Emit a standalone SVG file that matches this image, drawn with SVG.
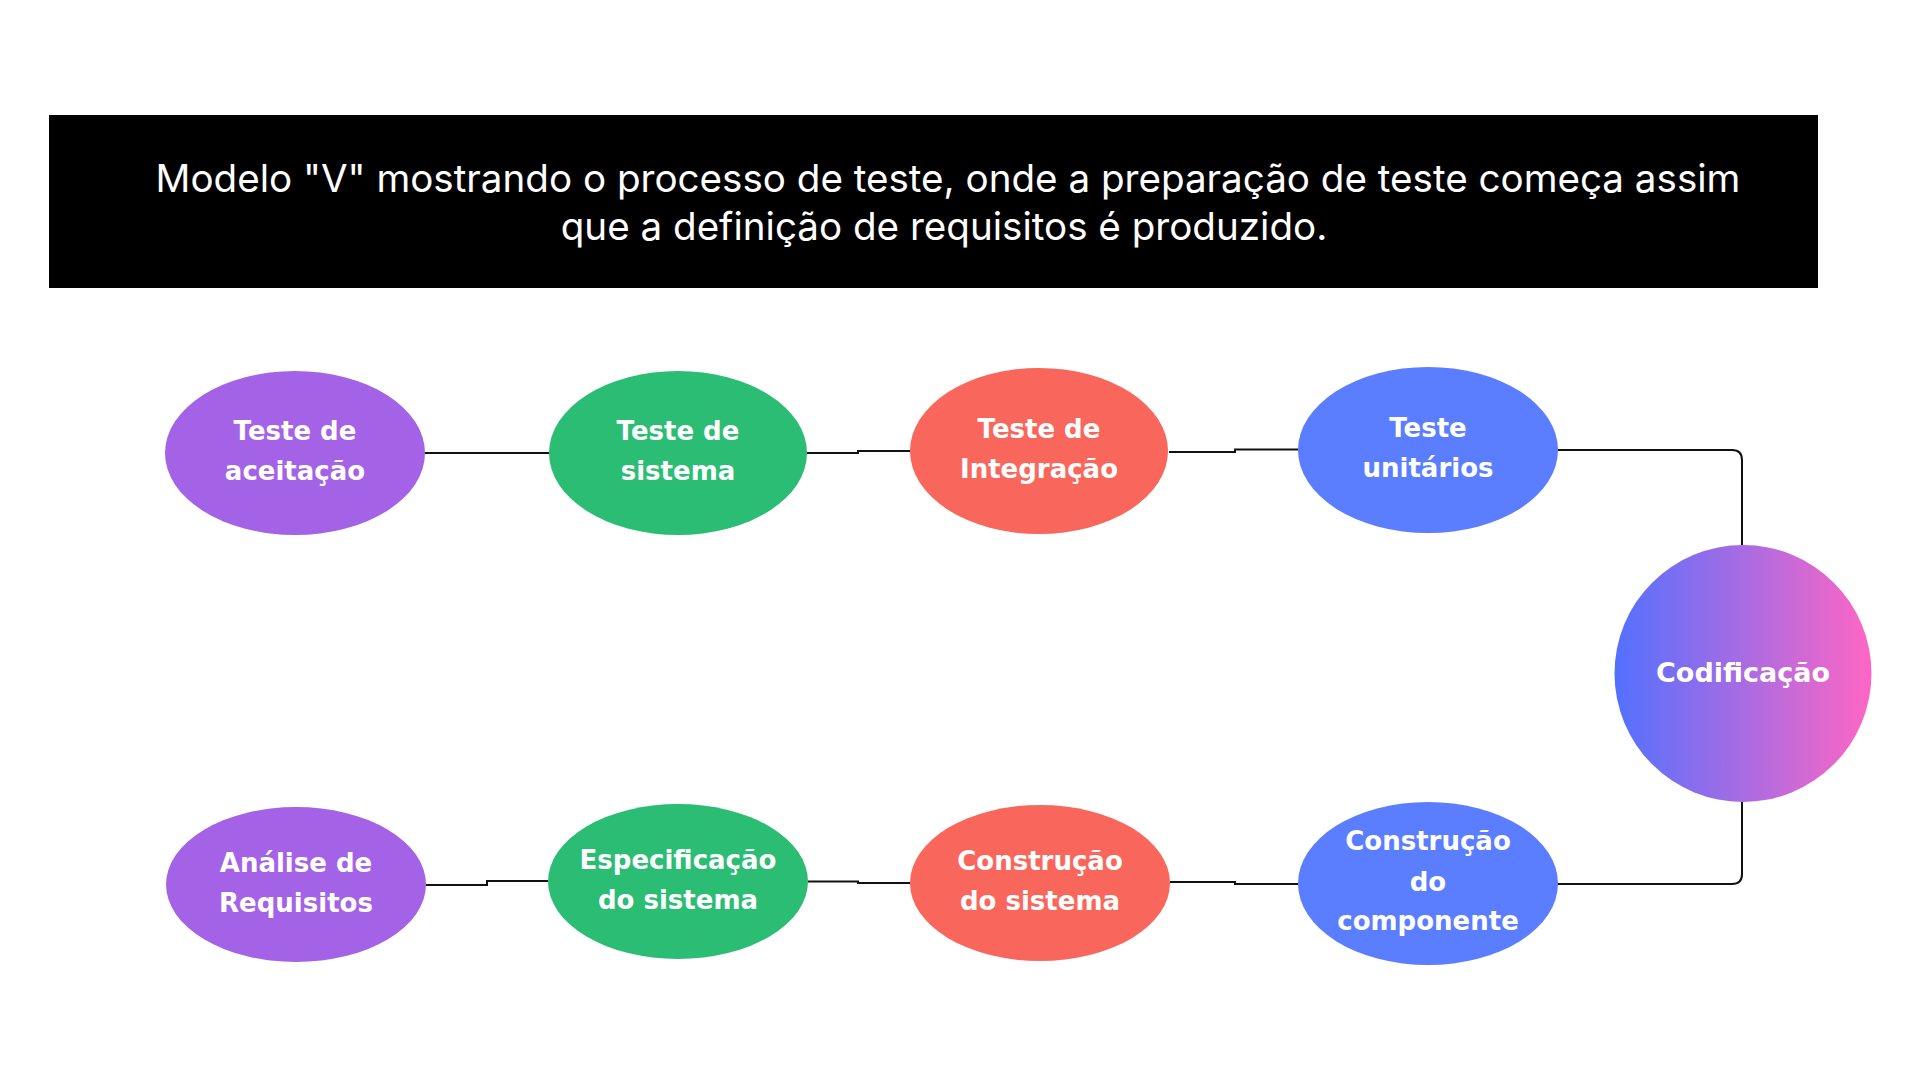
<svg xmlns="http://www.w3.org/2000/svg" width="1920" height="1080" viewBox="0 0 1920 1080">
<defs>
<linearGradient id="grad" x1="0" y1="0" x2="1" y2="0">
<stop offset="0" stop-color="#5271FF"/>
<stop offset="1" stop-color="#FF66C4"/>
</linearGradient>
<style>
.title{font-family:Inter,"Liberation Sans",sans-serif;font-size:38.6px;fill:#fff;text-anchor:middle}
.lbl{font-family:"DejaVu Sans",sans-serif;font-weight:bold;font-size:26px;fill:#fff;text-anchor:middle}
.big{font-size:27px}
.con{fill:none;stroke:#111;stroke-width:2}
.purple{fill:#A463E6}
.green{fill:#2BBD74}
.red{fill:#F9675C}
.blue{fill:#5A7EFF}
</style>
</defs>
<rect width="1920" height="1080" fill="#fff"/>
<g id="title">
<rect x="49" y="115" width="1769" height="173" fill="#000"/>
<text class="title" x="948" y="192">Modelo "V" mostrando o processo de teste, onde a preparação de teste começa assim</text>
<text class="title" x="944" y="240">que a definição de requisitos é produzido.</text>
</g>
<g id="connectors">
<path class="con" d="M425 453 H549"/>
<path class="con" d="M807 453 H858 V451 H910"/>
<path class="con" d="M1169 452 H1235 V449.5 H1298"/>
<path class="con" d="M1558 450 H1732 Q1742 450 1742 460 V545"/>
<path class="con" d="M1742 802 V874 Q1742 884 1732 884 H1558"/>
<path class="con" d="M1298 884 H1235 V882 H1170"/>
<path class="con" d="M910 883 H858 V881.5 H808"/>
<path class="con" d="M548 881 H487 V885 H426"/>
</g>
<g id="teste-aceitacao">
<ellipse class="purple" cx="295" cy="453" rx="130" ry="82"/>
<text class="lbl" x="295" y="440">Teste de</text>
<text class="lbl" x="295" y="480">aceitação</text>
</g>
<g id="teste-sistema">
<ellipse class="green" cx="678" cy="453" rx="129" ry="82"/>
<text class="lbl" x="678" y="440">Teste de</text>
<text class="lbl" x="678" y="480">sistema</text>
</g>
<g id="teste-integracao">
<ellipse class="red" cx="1039" cy="451" rx="129" ry="83"/>
<text class="lbl" x="1039" y="438">Teste de</text>
<text class="lbl" x="1039" y="478">Integração</text>
</g>
<g id="teste-unitarios">
<ellipse class="blue" cx="1428" cy="450" rx="130" ry="83"/>
<text class="lbl" x="1428" y="437">Teste</text>
<text class="lbl" x="1428" y="477">unitários</text>
</g>
<g id="codificacao">
<circle cx="1743" cy="673.5" r="128.5" fill="url(#grad)"/>
<text class="lbl big" x="1743" y="682">Codificação</text>
</g>
<g id="analise-requisitos">
<ellipse class="purple" cx="296" cy="884.5" rx="130" ry="77.5"/>
<text class="lbl" x="296" y="872">Análise de</text>
<text class="lbl" x="296" y="912">Requisitos</text>
</g>
<g id="especificacao-sistema">
<ellipse class="green" cx="678" cy="881.5" rx="130" ry="77.5"/>
<text class="lbl" x="678" y="869">Especificação</text>
<text class="lbl" x="678" y="909">do sistema</text>
</g>
<g id="construcao-sistema">
<ellipse class="red" cx="1040" cy="883" rx="130" ry="78"/>
<text class="lbl" x="1040" y="870">Construção</text>
<text class="lbl" x="1040" y="910">do sistema</text>
</g>
<g id="construcao-componente">
<ellipse class="blue" cx="1428" cy="883.5" rx="130" ry="81.5"/>
<text class="lbl" x="1428" y="850">Construção</text>
<text class="lbl" x="1428" y="891">do</text>
<text class="lbl" x="1428" y="930">componente</text>
</g>
</svg>
